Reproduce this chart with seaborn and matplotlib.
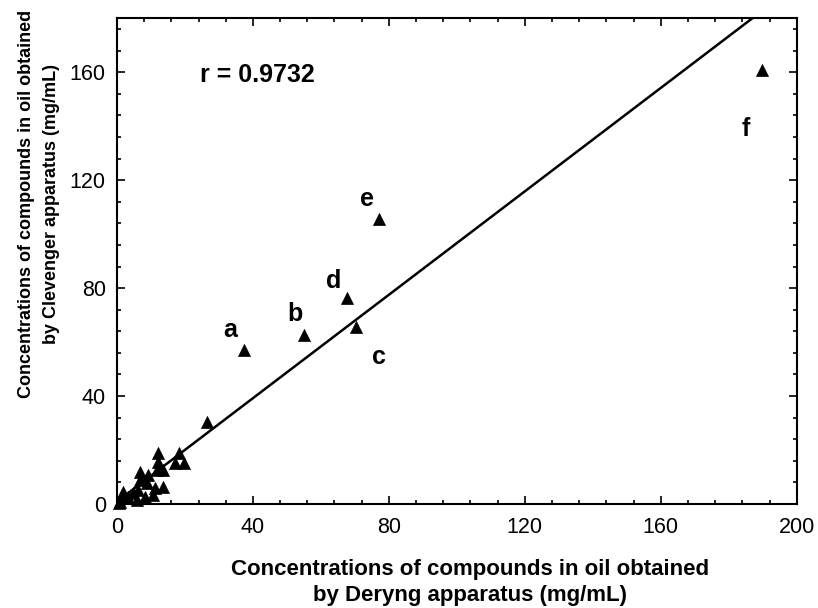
import numpy as np
import pandas as pd
import seaborn as sns
import matplotlib.pyplot as plt
from matplotlib.ticker import MultipleLocator

# data (mg/mL)
deryng = [0.5, 0.9, 1.4, 1.9, 3.3, 4.8, 5.8, 6.3, 6.8, 6.8, 8.2, 8.7, 9.2, 10.7, 11.2,
          11.7, 12.2, 12.2, 13.6, 13.6, 17.1, 18.2, 19.7, 26.4,
          37.4, 55.0, 70.3, 67.6, 77.0, 189.9]
clevenger = [0.5, 0.9, 2.1, 4.5, 2.7, 4.0, 1.5, 5.2, 12.0, 8.9, 2.7, 7.7, 10.7, 3.3, 5.8,
             12.6, 18.8, 15.7, 12.6, 6.4, 15.1, 18.8, 15.1, 30.3,
             57.0, 62.6, 65.6, 76.3, 105.6, 160.9]
point_labels = ['a', 'b', 'c', 'd', 'e', 'f']   # last six points
r_value = 0.9732
fit_slope = 0.958
fit_intercept = 0.9

df = pd.DataFrame({'deryng': deryng, 'clevenger': clevenger})

sns.set_style('ticks', {'axes.edgecolor': 'black', 'text.color': 'black',
                        'xtick.color': 'black', 'ytick.color': 'black',
                        'axes.labelcolor': 'black'})
plt.rcParams['font.family'] = ['Liberation Sans', 'DejaVu Sans']

fig = plt.figure(figsize=(8.18, 6.08), dpi=100)
ax = fig.add_axes([0.143, 0.171, 0.831, 0.799])

# regression line
fit_x = np.array([0, 200])
ax.plot(fit_x, fit_slope * fit_x + fit_intercept, color='black', lw=1.8, zorder=2)

sns.scatterplot(data=df, x='deryng', y='clevenger', marker='^', s=75,
                color='black', edgecolor='black', linewidth=0.5, ax=ax, zorder=3,
                clip_on=False)

# letter labels next to the outlying points
offsets = [(-4.2, 7.4), (-2.6, 7.8), (6.7, -11.2), (-3.8, 6.3), (-3.5, 7.4), (-5.0, -21.9)]
for lab, (dx, dy), px, py in zip(point_labels, offsets, deryng[-6:], clevenger[-6:]):
    ax.text(px + dx, py + dy, lab, fontsize=18, fontweight='bold',
            ha='center', va='center')

ax.text(24.4, 159, 'r = %.4f' % r_value, fontsize=18, fontweight='bold',
        ha='left', va='center')

ax.set_xlim(0, 200)
ax.set_ylim(0, 180)
ax.xaxis.set_major_locator(MultipleLocator(40))
ax.xaxis.set_minor_locator(MultipleLocator(8))
ax.yaxis.set_major_locator(MultipleLocator(40))
ax.yaxis.set_minor_locator(MultipleLocator(8))
ax.tick_params(which='both', direction='in', top=True, right=True, labelsize=15.5,
               width=1.2)
ax.tick_params(axis='x', pad=9)
ax.tick_params(axis='y', pad=8)
ax.tick_params(which='major', length=6)
ax.tick_params(which='minor', length=3)
for s in ax.spines.values():
    s.set_linewidth(1.5)

ax.set_xlabel('Concentrations of compounds in oil obtained\nby Deryng apparatus (mg/mL)',
              fontsize=16, fontweight='bold', linespacing=1.3)
ax.set_ylabel('Concentrations of compounds in oil obtained\nby Clevenger apparatus (mg/mL)',
              fontsize=13, fontweight='bold', linespacing=1.6)
ax.xaxis.set_label_coords(0.519, -0.113)
ax.yaxis.set_label_coords(-0.084, 0.617)

plt.savefig('out.png', dpi=100)
